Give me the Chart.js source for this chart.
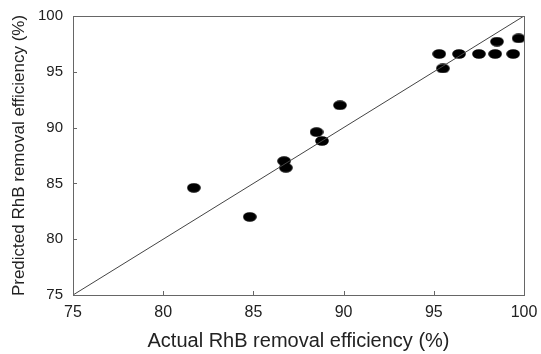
<!DOCTYPE html>
<html>
<head>
    <title>RhB removal efficiency</title>
    <script src="https://cdn.jsdelivr.net/npm/chart.js"></script>
    <style>
        html, body { margin: 0; padding: 0; background: #fff; }
        #wrap { width: 541px; height: 354px; }
    </style>
</head>
<body>
<div id="wrap"><canvas id="rhbChart"></canvas></div>

<script>
    // actual vs predicted values
    const actual = [81.7, 84.8, 86.7, 86.8, 88.5, 88.8, 89.8, 95.3, 95.5, 96.4, 97.5, 98.4, 98.5, 99.4, 99.7];
    const predicted = [84.6, 82.0, 87.0, 86.4, 89.6, 88.8, 92.0, 96.6, 95.3, 96.6, 96.6, 96.6, 97.7, 96.6, 98.0];
    const lineX = [75, 100];
    const lineY = [75, 100];
    const axisTicks = [75, 80, 85, 90, 95, 100];

    // black ellipse used as marker
    const dot = document.createElement('canvas');
    dot.width = 14;
    dot.height = 10;
    const dctx = dot.getContext('2d');
    dctx.fillStyle = '#000';
    dctx.beginPath();
    dctx.ellipse(7, 5, 6.8, 4.8, 0, 0, Math.PI * 2);
    dctx.fill();

    // frame + inward ticks
    const frame = {
        id: 'frame',
        afterDatasetsDraw(chart) {
            const { ctx, chartArea: a, scales } = chart;
            ctx.save();
            ctx.strokeStyle = '#666';
            ctx.lineWidth = 1;
            ctx.strokeRect(a.left + 0.5, a.top + 0.5, a.right - a.left, a.bottom - a.top);
            ctx.beginPath();
            axisTicks.forEach(v => {
                const x = Math.round(scales.x.getPixelForValue(v)) + 0.5;
                ctx.moveTo(x, a.bottom);
                ctx.lineTo(x, a.bottom - 4);
                const y = Math.round(scales.y.getPixelForValue(v)) + 0.5;
                ctx.moveTo(a.left, y);
                ctx.lineTo(a.left + 4, y);
            });
            ctx.stroke();
            ctx.restore();
        }
    };

    const ctx = document.getElementById('rhbChart').getContext('2d');
    new Chart(ctx, {
        data: {
            datasets: [{
                type: 'line',
                data: lineX.map((x, i) => ({ x: x, y: lineY[i] })),
                borderColor: '#444',
                borderWidth: 1,
                pointRadius: 0,
                fill: false
            }, {
                type: 'scatter',
                data: actual.map((x, i) => ({ x: x, y: predicted[i] })),
                pointStyle: dot,
                pointRadius: 7
            }]
        },
        options: {
            responsive: true,
            maintainAspectRatio: false,
            animation: false,
            layout: { padding: { top: 16, right: 17, left: 0, bottom: 0 } },
            plugins: { legend: { display: false }, tooltip: { enabled: false } },
            scales: {
                x: {
                    type: 'linear',
                    min: 75,
                    max: 100,
                    afterBuildTicks: s => { s.ticks = axisTicks.map(v => ({ value: v })); },
                    afterFit: s => { s.height = 59; s.paddingLeft = 0; s.paddingRight = 0; },
                    grid: { display: false, drawTicks: false },
                    border: { display: false },
                    ticks: { color: '#222', padding: 8, font: { family: 'Liberation Sans', size: 16 } },
                    title: {
                        display: true,
                        text: 'Actual RhB removal efficiency (%)',
                        color: '#222',
                        padding: { top: 0, bottom: 1 },
                        font: { family: 'Liberation Sans', size: 20 }
                    }
                },
                y: {
                    type: 'linear',
                    min: 75,
                    max: 100,
                    afterBuildTicks: s => { s.ticks = axisTicks.map(v => ({ value: v })); },
                    afterFit: s => { s.width = 73; s.paddingTop = 0; s.paddingBottom = 0; },
                    grid: { display: false, drawTicks: false },
                    border: { display: false },
                    ticks: { color: '#222', padding: 10, font: { family: 'Liberation Sans', size: 15 } },
                    title: {
                        display: true,
                        text: 'Predicted RhB removal efficiency (%)',
                        color: '#222',
                        padding: { top: 9, bottom: 0 },
                        font: { family: 'Liberation Sans', size: 17 }
                    }
                }
            }
        },
        plugins: [frame]
    });
</script>
</body>
</html>
